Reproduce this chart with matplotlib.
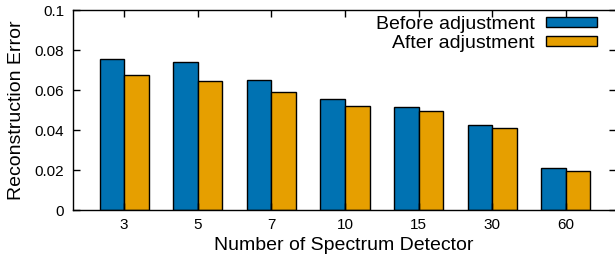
import numpy as np
import matplotlib
matplotlib.use('Agg')
import matplotlib.pyplot as plt

detectors = ['3', '5', '7', '10', '15', '30', '60']
before = [0.0753, 0.0742, 0.0648, 0.0557, 0.0515, 0.0423, 0.0208]
after = [0.0675, 0.0643, 0.0588, 0.0520, 0.0495, 0.0408, 0.0195]

plt.rcParams['font.family'] = ['Liberation Sans', 'DejaVu Sans']

fig = plt.figure(figsize=(6.15, 2.65), dpi=100)
ax = fig.add_axes([72.5 / 615, 55 / 265, (616 - 72.5) / 615, 200 / 265])

x = np.arange(len(detectors))
w = 1 / 3
ax.bar(x - w / 2, before, w, color='#0072B2', edgecolor='black', linewidth=1,
       label='Before adjustment')
ax.bar(x + w / 2, after, w, color='#E69F00', edgecolor='black', linewidth=1,
       label='After adjustment')

ax.set_xlim(-0.70, 6.68)
ax.set_ylim(0, 0.1)
ax.set_xticks(x)
ax.set_xticklabels(detectors)
ax.set_yticks([0, 0.02, 0.04, 0.06, 0.08, 0.1])
ax.set_yticklabels(['0', '0.02', '0.04', '0.06', '0.08', '0.1'])
ax.tick_params(direction='in', top=True, right=True, length=5, width=1,
               labelsize=11, pad=6)
for s in ax.spines.values():
    s.set_linewidth(1)

ax.set_xlabel('Number of Spectrum Detector', fontsize=14, labelpad=3)
ax.set_ylabel('Reconstruction Error', fontsize=14, labelpad=7)

ax.legend(loc='upper right', bbox_to_anchor=(597 / 615, 1 - 16 / 265),
          bbox_transform=fig.transFigure, frameon=False, markerfirst=False,
          fontsize=14, handlelength=2.6, handleheight=0.45, handletextpad=0.6,
          labelspacing=0.1, borderaxespad=0, borderpad=0)

fig.savefig('out.png', dpi=100)
